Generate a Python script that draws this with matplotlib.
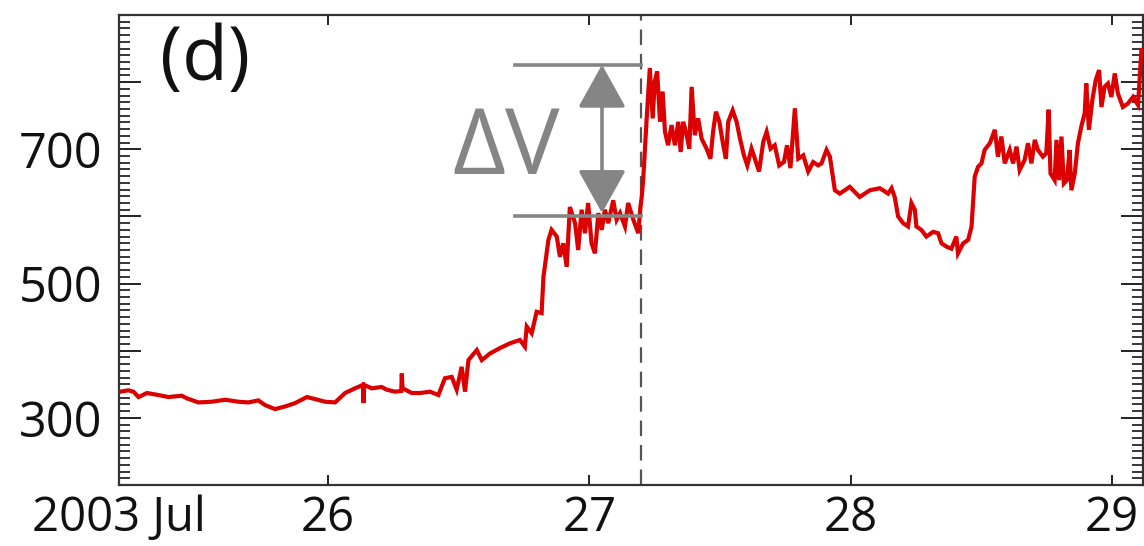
import numpy as np
import matplotlib
matplotlib.use("Agg")
import matplotlib.pyplot as plt
from matplotlib.ticker import MultipleLocator, FuncFormatter

plt.rcParams['font.family'] = ['Open Sans', 'DejaVu Sans']

# Solar wind speed (km/s), day of July 2003
day = [25.205, 25.236, 25.255, 25.275, 25.307, 25.351, 25.389, 25.440, 25.460, 25.504,
       25.555, 25.606, 25.657, 25.695, 25.733, 25.759, 25.797, 25.836, 25.874, 25.919,
       25.950, 25.989, 26.027, 26.065, 26.103, 26.133, 26.136, 26.138, 26.167, 26.205,
       26.224, 26.256, 26.280, 26.282, 26.285, 26.320, 26.352, 26.390, 26.422, 26.447,
       26.473, 26.492, 26.511, 26.524, 26.537, 26.569, 26.588, 26.620, 26.658, 26.696,
       26.734, 26.753, 26.760, 26.779, 26.798, 26.817,
       26.824, 26.843, 26.855, 26.875, 26.887, 26.900, 26.913, 26.925, 26.945, 26.957,
       26.970, 26.983, 26.995, 27.008, 27.021, 27.034, 27.047, 27.059, 27.072, 27.091,
       27.104, 27.117, 27.136, 27.148, 27.168, 27.187, 27.195,
       27.200, 27.206, 27.219, 27.231, 27.242, 27.250, 27.259, 27.270, 27.280, 27.289,
       27.301, 27.314, 27.327, 27.340, 27.349, 27.359, 27.372, 27.382, 27.391, 27.403,
       27.416, 27.429, 27.448, 27.463, 27.473, 27.484, 27.497, 27.512, 27.522, 27.531,
       27.548, 27.563, 27.576, 27.591, 27.604, 27.620, 27.633, 27.649, 27.665, 27.678,
       27.693, 27.709, 27.726, 27.744, 27.756, 27.769, 27.786, 27.799, 27.818, 27.837,
       27.856, 27.875, 27.888, 27.907, 27.920, 27.939, 27.958, 27.996, 28.034, 28.073,
       28.111, 28.143, 28.156, 28.168, 28.181, 28.200, 28.219, 28.232, 28.245, 28.251,
       28.270, 28.289, 28.315, 28.334, 28.347, 28.366, 28.385, 28.404, 28.410, 28.430,
       28.449, 28.462, 28.474, 28.487, 28.500, 28.512, 28.532, 28.551, 28.563, 28.576,
       28.589, 28.608, 28.621, 28.634, 28.646, 28.665, 28.678, 28.691, 28.704, 28.716,
       28.735, 28.748, 28.757, 28.764, 28.780, 28.787, 28.797, 28.806, 28.815, 28.827,
       28.837, 28.844, 28.857, 28.869, 28.882, 28.895, 28.901, 28.911, 28.924, 28.937,
       28.950, 28.959, 28.971, 28.984, 28.997, 29.010, 29.022, 29.041, 29.060, 29.080,
       29.099, 29.112, 29.118]
speed = [339, 341, 339, 331, 337, 334, 331, 333, 329, 323,
         324, 327, 324, 323, 326, 319, 313, 317, 322, 331,
         328, 324, 323, 337, 344, 349, 322, 349, 344, 346,
         342, 339, 340, 366, 344, 337, 337, 339, 334, 359,
         361, 342, 376, 339, 386, 401, 386, 396, 404, 411,
         416, 406, 436, 426, 458, 456,
         510, 565, 580, 570, 540, 560, 525, 614, 590, 550,
         610, 575, 620, 560, 545, 605, 580, 610, 590, 624,
         595, 605, 585, 620, 595, 575, 614,
         629, 657, 746, 821, 746, 801, 816, 741, 786, 726,
         706, 736, 706, 741, 696, 741, 721, 701, 793, 721,
         746, 716, 701, 686, 726, 756, 741, 706, 686, 741,
         758, 741, 716, 691, 676, 701, 686, 667, 711, 726,
         701, 706, 676, 681, 706, 672, 761, 686, 691, 667,
         681, 676, 679, 699, 689, 639, 634, 644, 629, 639,
         642, 634, 642, 629, 600, 590, 585, 620, 610, 585,
         580, 570, 577, 575, 560, 555, 552, 570, 545, 560,
         565, 585, 659, 674, 679, 699, 709, 729, 689, 719,
         679, 699, 679, 704, 669, 684, 709, 679, 714, 699,
         689, 694, 759, 664, 654, 714, 654, 719, 649, 654,
         699, 639, 664, 709, 734, 754, 798, 729, 773, 803,
         818, 763, 793, 798, 778, 813, 783, 763, 768, 778,
         766, 848, 848]

xtick_pos = [25.2, 26, 27, 28, 29]
xtick_labels = ['2003 Jul', '26', '27', '28', '29']
ytick_labelled = [300, 500, 700]
shock_day = 27.197      # dashed line
v_before = 600          # lower bar of delta V
v_after = 826           # upper bar of delta V

gray = '#858585'

fig = plt.figure(figsize=(11.44, 5.46), dpi=100)
ax = fig.add_axes([119/1144, 1 - 485/546, 1024/1144, 470/546])

ax.plot(day, speed, color='#dc0000', lw=3.0, zorder=3, solid_joinstyle='miter')

ax.axvline(shock_day, color='#555555', lw=1.6, ls=(0, (7, 4)), zorder=2)

# delta V marker
ax.plot([26.715, shock_day], [v_after, v_after], color=gray, lw=2.6, zorder=4)
ax.plot([26.715, shock_day], [v_before, v_before], color=gray, lw=2.6, zorder=4)
ax.annotate('', xy=(27.048, v_after), xytext=(27.048, v_before + 5),
            arrowprops=dict(arrowstyle='<|-|>,head_length=1.35,head_width=0.75',
                            color=gray, lw=2.6, mutation_scale=20,
                            shrinkA=0, shrinkB=0), zorder=5)
ax.text(26.474, 663, '\u0394V', color=gray, fontsize=66, ha='left', va='baseline', zorder=5)

ax.text(0.040, 0.862, '(d)', transform=ax.transAxes, fontsize=54,
        ha='left', va='baseline', color='#111111')

ax.set_xlim(25.2, 29.118)
ax.set_ylim(200, 900)

ax.set_xticks(xtick_pos)
ax.set_xticklabels(xtick_labels)
ax.yaxis.set_major_locator(MultipleLocator(100))
ax.yaxis.set_minor_locator(MultipleLocator(10))
ax.yaxis.set_major_formatter(FuncFormatter(
    lambda v, p: '%d' % v if int(round(v)) in ytick_labelled else ''))

ax.tick_params(axis='x', which='major', direction='in', length=7, width=1.3,
               top=True, labelsize=34, pad=7, colors='#111111')
ax.tick_params(axis='y', which='major', direction='in', length=16, width=1.3,
               right=True, labelsize=35, pad=12, colors='#111111')
ax.tick_params(axis='y', which='minor', direction='in', length=8, width=1.1, right=True)

for s in ax.spines.values():
    s.set_linewidth(1.6)
    s.set_color('#333333')

fig.savefig('out.png', dpi=100)
